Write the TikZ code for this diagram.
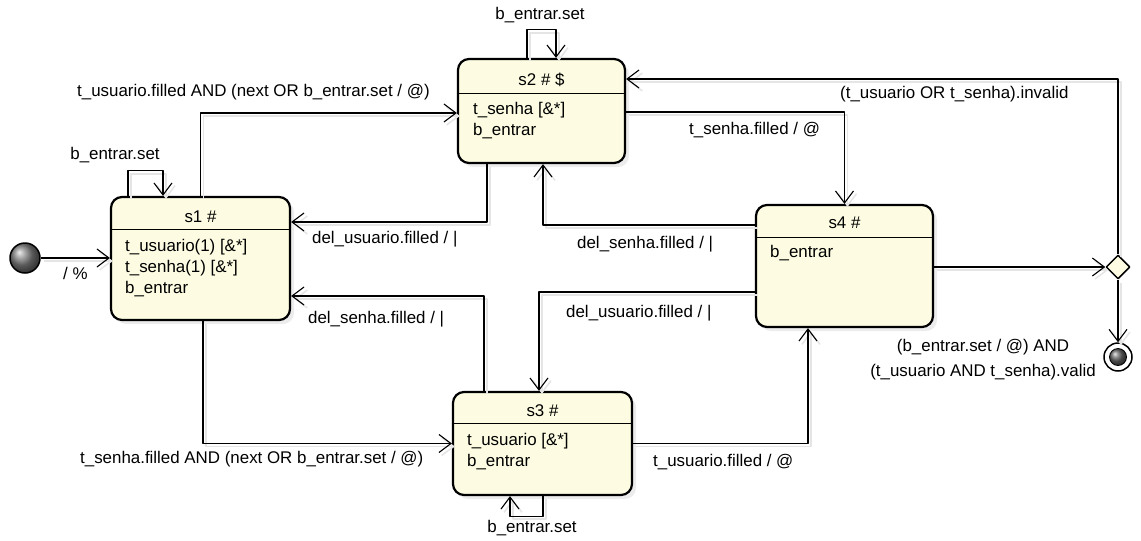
\documentclass[tikz,border=0pt]{standalone}
\usepackage{fontspec}
\setmainfont{Liberation Sans}
\usetikzlibrary{arrows.meta,shadows,shapes.geometric}
\definecolor{stfill}{RGB}{253,252,226}
\begin{document}
\begin{tikzpicture}[x=1pt, y=-1pt, line join=round, >={Straight Barb[length=12pt,width=18pt]}, font=\fontsize{16.9}{21}\selectfont]
			\tikzset{state/.style={draw, line width=2.2pt, rounded corners=11pt, fill=stfill, drop shadow={shadow xshift=4pt, shadow yshift=-4pt, fill=black!15}},
				head/.style={inner sep=0},
				body/.style={align=left, anchor=north west, inner sep=0},
				lbl/.style={anchor=west, inner sep=0},
				tr/.style={->, line width=1.1pt, preaction={draw=black!10, line width=1.5pt, transform canvas={shift={(3pt,-3pt)}}}}}
			\useasboundingbox (0,0) rectangle (1141,541);
			\node[state, minimum width=179, minimum height=123] (s1) at (200.5,258.5) {};
			\node[head] (h1) at (200.5,217) {s1 \#};
			\draw[line width=1pt] (s1.west |- 0,229) -- (s1.east |- 0,229);
			\node[body] (b1) at (125,239) {t\_usuario(1) [\&*]\\ t\_senha(1) [\&*]\\ b\_entrar};
			\node[state, minimum width=167, minimum height=104] (s2) at (541.5,111) {};
			\node[head] (h2) at (541.5,80) {s2 \# \$};
			\draw[line width=1pt] (s2.west |- 0,93) -- (s2.east |- 0,93);
			\node[body] (b2) at (473,102) {t\_senha [\&*]\\ b\_entrar};
			\node[state, minimum width=179, minimum height=103] (s3) at (542.5,443.5) {};
			\node[head] (h3) at (542.5,411) {s3 \#};
			\draw[line width=1pt] (s3.west |- 0,423) -- (s3.east |- 0,423);
			\node[body] (b3) at (467,433) {t\_usuario [\&*]\\ b\_entrar};
			\node[state, minimum width=177, minimum height=122] (s4) at (844.5,266) {};
			\node[head] (h4) at (844.5,223) {s4 \#};
			\draw[line width=1pt] (s4.west |- 0,237) -- (s4.east |- 0,237);
			\node[body] (b4) at (770,245) {b\_entrar};
			\node[circle, draw, line width=1.5pt, ball color=black!50, minimum size=30, inner sep=0] (ini) at (25,258) {};
			\node[diamond, draw, line width=1.5pt, fill=stfill, minimum size=24, inner sep=0] (dia) at (1118,267) {};
			\node[circle, draw, line width=1.5pt, fill=white, minimum size=28, inner sep=0] (fin) at (1118,357) {};
			\node[circle, draw, line width=.8pt, ball color=black!60, minimum size=17, inner sep=0] (fin in) at (fin) {};
			\draw[tr] (ini) -- (s1.west |- ini);
			\draw[tr] (s1.north) |- (s2.west |- 0,113);
			\draw[tr] (487,0 |- s2.south) |- (s1.east |- 0,222);
			\draw[tr] (s4.west |- 0,225) -| (543,0 |- s2.south);
			\draw[tr] (s2.east |- 0,112) -| (s4.north);
			\draw[tr] (dia.north) |- (s2.east |- 0,79);
			\draw[tr] (s4.east |- dia) -- (dia.west);
			\draw[tr] (dia.south) -- (fin.north);
			\draw[tr] (s4.west |- 0,292) -| (539,0 |- s3.north);
			\draw[tr] (203,0 |- s1.south) |- (s3.west);
			\draw[tr] (s3.east) -| (808,0 |- s4.south);
			\draw[tr] (484,0 |- s3.north) |- (s1.east |- 0,296);
			\draw[tr] (128,0 |- s1.north) -- ++(0,-25) -| (163,0 |- s1.north);
			\draw[tr] (527,0 |- s2.north) -- ++(0,-28) -| (556,0 |- s2.north);
			\draw[tr] (543,0 |- s3.south) -- ++(0,20) -| (510,0 |- s3.south);
			\node[lbl] (l0) at (63,273) {/ \%};
			\node[lbl] (l1) at (77,92) {t\_usuario.filled AND (next OR b\_entrar.set / @)};
			\node[lbl] (l2) at (312,239) {del\_usuario.filled / |};
			\node[lbl] (l3) at (308,319) {del\_senha.filled / |};
			\node[lbl] (l4) at (577,244) {del\_senha.filled / |};
			\node[lbl] (l5) at (566,313) {del\_usuario.filled / |};
			\node[lbl] (l6) at (689,130) {t\_senha.filled / @};
			\node[lbl] (l7) at (840,94) {(t\_usuario OR t\_senha).invalid};
			\node[lbl] (l8) at (80,459) {t\_senha.filled AND (next OR b\_entrar.set / @)};
			\node[lbl] (l9) at (653,462) {t\_usuario.filled / @};
			\node[align=center, inner sep=0] (l10) at (983,360) {(b\_entrar.set / @) AND\\[4pt] (t\_usuario AND t\_senha).valid};
			\node[head] (l11) at (115,155) {b\_entrar.set};
			\node[head] (l12) at (540,15) {b\_entrar.set};
			\node[head] (l13) at (532,528) {b\_entrar.set};
\end{tikzpicture}
\end{document}
